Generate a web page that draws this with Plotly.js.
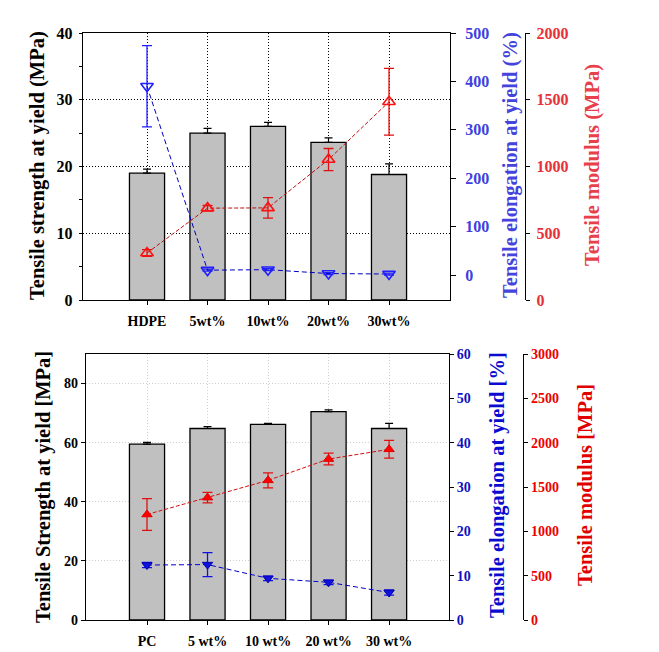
<!DOCTYPE html>
<html>
<head>
<meta charset="utf-8">
<script src="https://cdn.plot.ly/plotly-3.0.1.min.js"></script>
<style>html,body{margin:0;padding:0;background:#fff;}#chart{width:659px;height:652px;}</style>
</head>
<body>
<div id="chart"></div>
<script>
// ---- Top panel (HDPE) ----
var categoriesTop = ['HDPE', '5wt%', '10wt%', '20wt%', '30wt%'];
var strengthTop = [19.0, 25.0, 26.0, 23.6, 18.8];
var strengthTopErr = [0.6, 0.7, 0.6, 0.7, 1.6];
var elongTop = [390, 10, 11, 3, 2];
var elongTopErr = [84, 2, 2, 2, 2];
var modulusTop = [352, 688, 690, 1052, 1485];
var modulusTopErr = [25, 20, 77, 83, 250];

// ---- Bottom panel (PC) ----
var categoriesBot = ['PC', '5 wt%', '10 wt%', '20 wt%', '30 wt%'];
var strengthBot = [59.5, 64.8, 66.2, 70.5, 64.8];
var strengthBotErr = [0.6, 0.6, 0.3, 0.6, 1.7];
var elongBot = [12.4, 12.5, 9.4, 8.5, 6.2];
var elongBotErr = [0.6, 2.7, 0.5, 0.5, 0.6];
var modulusBot = [1190, 1380, 1575, 1815, 1925];
var modulusBotErr = [180, 60, 85, 66, 100];

var SERIF = 'Liberation Serif, Times New Roman, serif';
function zeros(a){ return a.map(function(){ return 0; }); }

var traces = [
  {type:'bar', x:categoriesTop, y:strengthTop, xaxis:'x', yaxis:'y', width:0.58,
   marker:{color:'#c0c0c0', line:{color:'#000', width:1.3}},
   error_y:{type:'data', array:strengthTopErr, arrayminus:zeros(strengthTop), color:'#000', thickness:1.2, width:4}},
  {type:'scatter', mode:'lines+markers', x:categoriesTop, y:elongTop, xaxis:'x', yaxis:'y2',
   line:{color:'#0000c0', width:1, dash:'5px,3px'},
   marker:{symbol:'triangle-down-open', size:11, color:'#2020ff', line:{width:1.6, color:'#2020ff'}},
   error_y:{type:'data', array:elongTopErr, color:'#2020ff', thickness:1.3, width:5}},
  {type:'scatter', mode:'lines+markers', x:categoriesTop, y:modulusTop, xaxis:'x', yaxis:'y3',
   line:{color:'#c01010', width:1, dash:'4px,2px'},
   marker:{symbol:'triangle-up-open', size:11, color:'#ff1010', line:{width:1.6, color:'#ff1010'}},
   error_y:{type:'data', array:modulusTopErr, color:'#e01010', thickness:1.3, width:5}},

  {type:'bar', x:categoriesBot, y:strengthBot, xaxis:'x2', yaxis:'y4', width:0.58,
   marker:{color:'#c0c0c0', line:{color:'#000', width:1.3}},
   error_y:{type:'data', array:strengthBotErr, arrayminus:zeros(strengthBot), color:'#000', thickness:1.2, width:4}},
  {type:'scatter', mode:'lines+markers', x:categoriesBot, y:elongBot, xaxis:'x2', yaxis:'y5',
   line:{color:'#0000d0', width:1, dash:'5px,3px'},
   marker:{symbol:'triangle-down', size:9, color:'#1010e0', line:{width:1, color:'#0000b0'}},
   error_y:{type:'data', array:elongBotErr, color:'#1010e0', thickness:1.3, width:5}},
  {type:'scatter', mode:'lines+markers', x:categoriesBot, y:modulusBot, xaxis:'x2', yaxis:'y6',
   line:{color:'#d01010', width:1, dash:'4px,2px'},
   marker:{symbol:'triangle-up', size:9, color:'#ff0000', line:{width:1, color:'#e00000'}},
   error_y:{type:'data', array:modulusBotErr, color:'#e01010', thickness:1.3, width:5}}
];

var W = 659, H = 652;
function px(x){ return x / W; }
function py(y){ return 1 - y / H; }

var tickBold = function(size, color){ return {family:SERIF, size:size, color:color, weight:'bold'}; };

var layout = {
  width: W, height: H,
  margin:{l:0, r:0, t:0, b:0},
  paper_bgcolor:'#fff', plot_bgcolor:'#fff',
  showlegend:false,
  bargap:0,
  xaxis:{domain:[px(83), px(450)], anchor:'y', type:'category', range:[-1.058, 5.008],
    showline:true, linecolor:'#000', linewidth:1.2, mirror:true,
    showgrid:true, gridcolor:'#000', griddash:'1px,2px', gridwidth:1,
    ticks:'outside', ticklen:4, tickcolor:'#000', tickfont:tickBold(14,'#000'), ticklabelstandoff:4, automargin:false},
  yaxis:{domain:[py(300), py(33)], anchor:'x', range:[0,40], dtick:10,
    showline:true, linecolor:'#000', linewidth:1.2, mirror:true,
    showgrid:true, gridcolor:'#000', griddash:'1px,2px', gridwidth:1, zeroline:false,
    ticks:'outside', ticklen:3, tickcolor:'#000',
    minor:{dtick:5, ticks:'outside', ticklen:3, tickcolor:'#000', showgrid:false},
    tickfont:tickBold(16,'#000'), ticklabelstandoff:3, automargin:false},
  yaxis2:{overlaying:'y', anchor:'x', side:'right', range:[-51.65, 500], tickvals:[0,100,200,300,400,500],
    showline:false, showgrid:false, zeroline:false,
    ticks:'outside', ticklen:5, tickcolor:'#000', tickfont:tickBold(16,'#4040e0'), ticklabelstandoff:6, automargin:false},
  yaxis3:{overlaying:'y', anchor:'free', position:px(525), side:'right', range:[0,2000], dtick:500,
    showline:true, linecolor:'#000', linewidth:1.2, showgrid:false, zeroline:false,
    ticks:'outside', ticklen:4, tickcolor:'#000', tickfont:tickBold(16,'#e8303a'), ticklabelstandoff:3, automargin:false},

  xaxis2:{domain:[px(86), px(449)], anchor:'y4', type:'category', range:[-1.008, 4.99],
    showline:true, linecolor:'#000', linewidth:1.2, mirror:true,
    showgrid:true, gridcolor:'#cfcfcf', griddash:'1px,2px', gridwidth:1,
    ticks:'outside', ticklen:4, tickcolor:'#000', tickfont:tickBold(14,'#000'), ticklabelstandoff:4, automargin:false},
  yaxis4:{domain:[py(620), py(354)], anchor:'x2', range:[0,90], tickvals:[0,20,40,60,80],
    showline:true, linecolor:'#000', linewidth:1.2, mirror:true,
    showgrid:true, gridcolor:'#cfcfcf', griddash:'1px,2px', gridwidth:1, zeroline:false,
    ticks:'outside', ticklen:4, tickcolor:'#000', tickfont:tickBold(14,'#000'), automargin:false},
  yaxis5:{overlaying:'y4', anchor:'x2', side:'right', range:[0,60], dtick:10,
    showline:false, showgrid:false, zeroline:false,
    ticks:'outside', ticklen:4, tickcolor:'#000', tickfont:tickBold(14,'#1010c0'), automargin:false},
  yaxis6:{overlaying:'y4', anchor:'free', position:px(523), side:'right', range:[0,3000], dtick:500,
    showline:true, linecolor:'#000', linewidth:1.2, showgrid:false, zeroline:false,
    ticks:'outside', ticklen:4, tickcolor:'#000', tickfont:tickBold(14,'#ee0000'), automargin:false},

  annotations:[
    {text:'Tensile strength at yield (MPa)', xref:'paper', yref:'paper', x:px(38), y:py(166), textangle:-90,
     xanchor:'center', yanchor:'middle', showarrow:false, font:{family:SERIF, size:20.5, color:'#000', weight:'bold'}},
    {text:'Tensile elongation at yield (%)', xref:'paper', yref:'paper', x:px(510), y:py(165), textangle:-90,
     xanchor:'center', yanchor:'middle', showarrow:false, font:{family:SERIF, size:20.5, color:'#4444dd', weight:'bold'}},
    {text:'Tensile modulus (MPa)', xref:'paper', yref:'paper', x:px(592), y:py(165), textangle:-90,
     xanchor:'center', yanchor:'middle', showarrow:false, font:{family:SERIF, size:20.5, color:'#e8404a', weight:'bold'}},
    {text:'Tensile Strength at yield [MPa]', xref:'paper', yref:'paper', x:px(43), y:py(487), textangle:-90,
     xanchor:'center', yanchor:'middle', showarrow:false, font:{family:SERIF, size:20.5, color:'#000', weight:'bold'}},
    {text:'Tensile elongation at yield [%]', xref:'paper', yref:'paper', x:px(497), y:py(485), textangle:-90,
     xanchor:'center', yanchor:'middle', showarrow:false, font:{family:SERIF, size:20.5, color:'#0a0ad0', weight:'bold'}},
    {text:'Tensile modulus [MPa]', xref:'paper', yref:'paper', x:px(585), y:py(485), textangle:-90,
     xanchor:'center', yanchor:'middle', showarrow:false, font:{family:SERIF, size:20.5, color:'#e00000', weight:'bold'}}
  ]
};

Plotly.newPlot('chart', traces, layout, {staticPlot:true, displayModeBar:false});
</script>
</body>
</html>
